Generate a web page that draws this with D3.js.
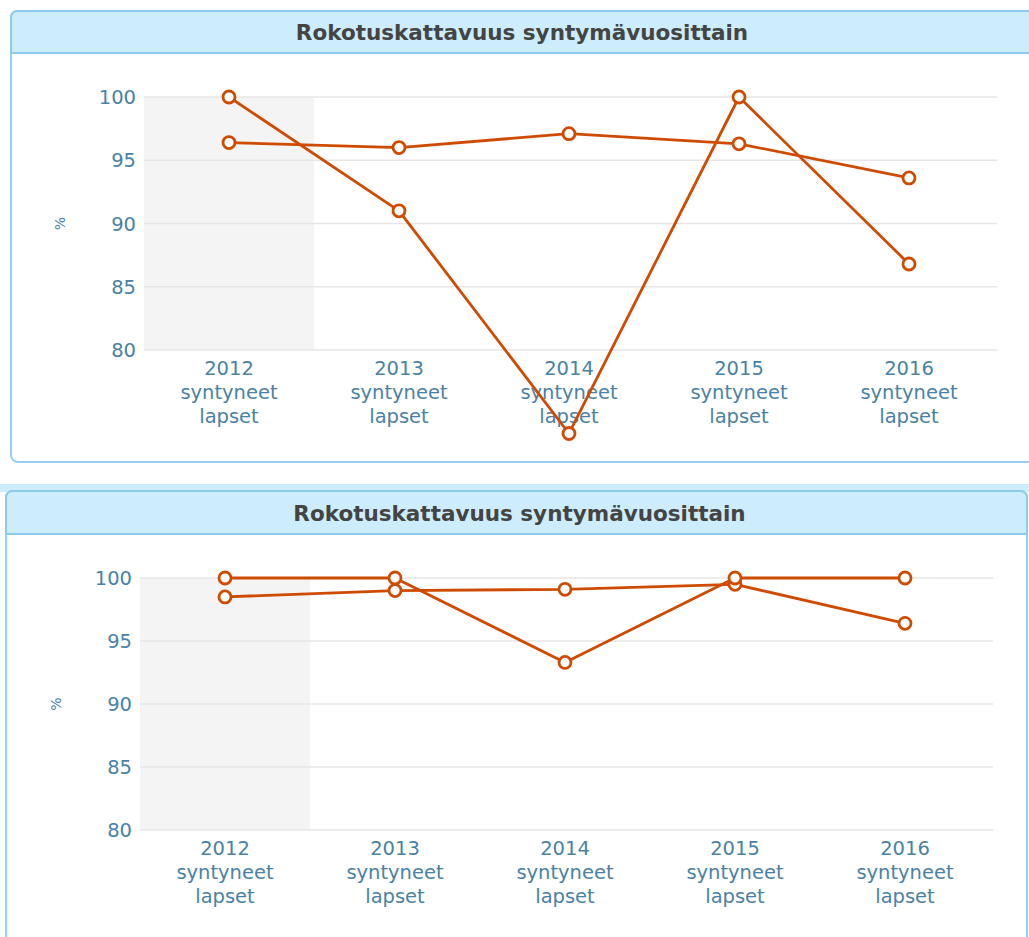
<!DOCTYPE html>
<meta charset="utf-8">
<style>
body { margin: 0; background: #fff; }
svg { display: block; font-family: "DejaVu Sans", Verdana, sans-serif; }
.title { font-size: 21.5px; font-weight: bold; fill: #444; }
.tick-y { font-size: 19.5px; fill: #4a82a6; }
.tick-x { font-size: 19.5px; fill: #4a82a6; }
.grid { stroke: #e6e6e6; stroke-width: 1.3; }
.series { fill: none; stroke: #cf4b02; stroke-width: 2.8; stroke-linejoin: round; }
.dot { fill: #fff; stroke: #cf4b02; stroke-width: 2.8; }
</style>
<body>
<svg width="1029" height="937"></svg>
</body>
<script src="https://cdn.jsdelivr.net/npm/d3@7"></script>
<script>

var svg = d3.select("svg");

// data
var years = ["2012", "2013", "2014", "2015", "2016"];
var labelLines = ["syntyneet", "lapset"];
var yTicks = [80, 85, 90, 95, 100];
var titleText = "Rokotuskattavuus syntymävuosittain";

var topSeriesA = [100, 91.0, 73.4, 100, 86.8];
var topSeriesB = [96.4, 96.0, 97.1, 96.3, 93.6];
var bottomSeriesA = [100, 100, 93.3, 100, 100];
var bottomSeriesB = [98.5, 99.0, 99.1, 99.5, 96.4];

// panel frames
function panel(x, y, w, h, barH) {
  svg.append("rect")
    .attr("x", x).attr("y", y)
    .attr("width", w).attr("height", h)
    .attr("rx", 7)
    .attr("fill", "#fff")
    .attr("stroke", "#94d0ef")
    .attr("stroke-width", 2);
  svg.append("path")
    .attr("d", "M" + x + "," + (y + barH) + "V" + (y + 7) + "Q" + x + "," + y + " " + (x + 7) + "," + y +
      "H" + (x + w - 7) + "Q" + (x + w) + "," + y + " " + (x + w) + "," + (y + 7) + "V" + (y + barH) + "Z")
    .attr("fill", "#cdedfd")
    .attr("stroke", "#8ccbec")
    .attr("stroke-width", 2);
  svg.append("text")
    .attr("class", "title")
    .attr("x", 522 - (11 - x) / 2)
    .attr("y", y + barH / 2 + 8)
    .attr("text-anchor", "middle")
    .text(titleText);
}

function chart(left, right, top, bottom, seriesList) {
  var x = d3.scaleBand().domain(years).range([left, right]);
  var y = d3.scaleLinear().domain([80, 100]).range([bottom, top]);
  var g = svg.append("g");

  // highlighted first category
  g.append("rect")
    .attr("x", x(years[0]))
    .attr("y", y(100))
    .attr("width", x.bandwidth())
    .attr("height", y(80) - y(100))
    .attr("fill", "#f4f4f4");

  g.selectAll(".grid")
    .data(yTicks)
    .enter().append("line")
    .attr("class", "grid")
    .attr("x1", left).attr("x2", right + 3)
    .attr("y1", function(d) { return y(d); })
    .attr("y2", function(d) { return y(d); });

  g.selectAll(".tick-y")
    .data(yTicks)
    .enter().append("text")
    .attr("class", "tick-y")
    .attr("x", left - 8)
    .attr("y", function(d) { return y(d) + 7; })
    .attr("text-anchor", "end")
    .text(function(d) { return d; });

  g.append("text")
    .attr("transform", "translate(" + (left - 79) + "," + ((top + bottom) / 2) + ") rotate(-90)")
    .attr("text-anchor", "middle")
    .attr("fill", "#4a82a6")
    .style("font-size", "14px")
    .text("%");

  var xl = g.selectAll(".tick-x")
    .data(years)
    .enter().append("text")
    .attr("class", "tick-x")
    .attr("text-anchor", "middle")
    .attr("x", function(d) { return x(d) + x.bandwidth() / 2; })
    .attr("y", bottom + 25);
  xl.append("tspan").text(function(d) { return d; });
  labelLines.forEach(function(s) {
    xl.append("tspan")
      .attr("x", function(d) { return x(d) + x.bandwidth() / 2; })
      .attr("dy", 24)
      .text(s);
  });

  var line = d3.line()
    .x(function(d, i) { return x(years[i]) + x.bandwidth() / 2; })
    .y(function(d) { return y(d); });

  seriesList.forEach(function(vals) {
    g.append("path").attr("class", "series").attr("d", line(vals));
  });
  seriesList.forEach(function(vals) {
    g.selectAll(null)
      .data(vals)
      .enter().append("circle")
      .attr("class", "dot")
      .attr("r", 6)
      .attr("cx", function(d, i) { return x(years[i]) + x.bandwidth() / 2; })
      .attr("cy", function(d) { return y(d); });
  });
}

panel(11, 11, 1100, 451, 42);
chart(144, 994, 97, 350, [topSeriesB, topSeriesA]);

// strip between the two panels
svg.append("rect")
  .attr("x", 0).attr("y", 484)
  .attr("width", 1029).attr("height", 8)
  .attr("fill", "#cdedfd");

panel(6, 491, 1021, 500, 43);
chart(140, 990, 578, 830, [bottomSeriesB, bottomSeriesA]);

</script>
